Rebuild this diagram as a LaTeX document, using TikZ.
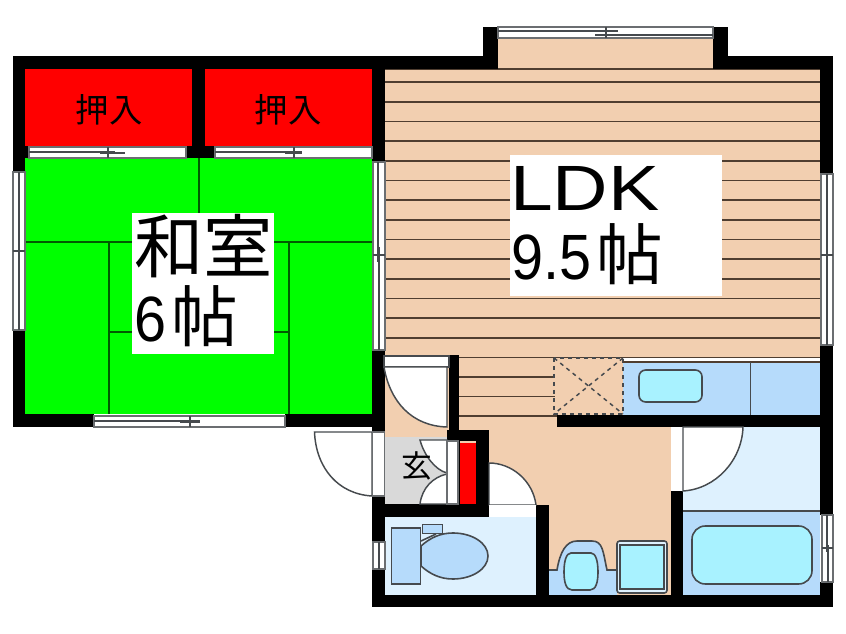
\documentclass[tikz,border=0pt]{standalone}
\usepackage{fontspec}
\setmainfont{Liberation Sans}
\newfontfamily\cjk{Noto Sans CJK JP}
\usepackage{xcolor}
\definecolor{floorc}{RGB}{242,207,176}
\definecolor{floorl}{RGB}{80,62,48}
\definecolor{tatami}{RGB}{0,255,0}
\definecolor{tatamil}{RGB}{0,90,0}
\definecolor{closetc}{RGB}{255,0,0}
\definecolor{wetc}{RGB}{182,219,251}
\definecolor{palec}{RGB}{222,241,254}
\definecolor{bowlc}{RGB}{168,242,255}
\definecolor{entryc}{RGB}{217,217,217}
\definecolor{linec}{RGB}{70,74,78}
\tikzset{
  wall/.style={fill=black,draw=none},
  floorline/.style={draw=floorl,line width=1.2},
  matline/.style={draw=tatamil,line width=0.8},
  fixture/.style={draw=linec,line width=1.2},
  door/.style={draw=linec,fill=white,line width=1.1},
  sash/.style={draw=linec!80,fill=white,line width=1},
  rail/.style={draw=linec,line width=0.9},
  roomlabel/.style={inner sep=0pt,text=black,anchor=base west,font=\fontsize{48}{48}\selectfont},
  closetlabel/.style={inner sep=0pt,font=\cjk\fontsize{25}{25}\selectfont},
}
\begin{document}
\begin{tikzpicture}[x=0.75pt,y=0.75pt,yscale=-1,xscale=1]
\useasboundingbox (0,0) rectangle (846,634);

%Shape: Rectangle [floors]
\fill [floorc] (385,69) rectangle (820,358) ;
\fill [floorc] (498,38) rectangle (713,69) ;
\fill [floorc] (385,358) rectangle (449,437) ;
\fill [floorc] (459,358) rectangle (623,415) ;
\fill [floorc] (459,415) rectangle (671,595) ;
\fill [tatami] (25,158) rectangle (372,414) ;
\fill [closetc] (25,69) rectangle (192,146) ;
\fill [closetc] (205,69) rectangle (372,146) ;
\fill [closetc] (460,443) rectangle (476,504) ;
\fill [entryc] (385,437) rectangle (447,504) ;
\fill [palec] (385,517) rectangle (536,595) ;
\fill [palec] (683,427) rectangle (820,511) ;
\fill [wetc] (683,511) rectangle (820,595) ;
\fill [wetc] (623,362) rectangle (820,415) ;

%Straight Lines [floor boards]
\draw [floorline] (498,38) -- (713,38) ;
\draw [floorline] (385,69) -- (820,69) ;
\draw [floorline] (385,82.3) -- (820,82.3) ;
\draw [floorline] (385,102) -- (820,102) ;
\draw [floorline] (385,121.6) -- (820,121.6) ;
\draw [floorline] (385,141.3) -- (820,141.3) ;
\draw [floorline] (385,160.9) -- (820,160.9) ;
\draw [floorline] (385,180.6) -- (820,180.6) ;
\draw [floorline] (385,200.2) -- (820,200.2) ;
\draw [floorline] (385,219.9) -- (820,219.9) ;
\draw [floorline] (385,239.5) -- (820,239.5) ;
\draw [floorline] (385,259.2) -- (820,259.2) ;
\draw [floorline] (385,278.8) -- (820,278.8) ;
\draw [floorline] (385,298.5) -- (820,298.5) ;
\draw [floorline] (385,318.1) -- (820,318.1) ;
\draw [floorline] (385,337.8) -- (820,337.8) ;
\draw [floorline] (459,357.4) -- (820,357.4) ;
\draw [floorline] (459,377) -- (555,377) ;
\draw [floorline] (459,396.7) -- (555,396.7) ;
\draw [floorline] (459,416.3) -- (557,416.3) ;

%Straight Lines [tatami]
\draw [matline] (199,158) -- (199,242) ;
\draw [matline] (25,242) -- (372,242) ;
\draw [matline] (109,242) -- (109,414) ;
\draw [matline] (289,242) -- (289,414) ;
\draw [matline] (109,332) -- (289,332) ;

%Shape: Rectangle [label backs]
\fill [white] (132,213) rectangle (274,354) ;
\fill [white] (510,155) rectangle (722,296) ;

%Shape: Dashed box
\draw [draw=linec,line width=1.2,dashed] (554,358) rectangle (623,414) ;
\draw [draw=linec,line width=1.1,dashed] (554,358) -- (623,414) ;
\draw [draw=linec,line width=1.1,dashed] (623,358) -- (554,414) ;

%Shape: Kitchen
\draw [draw=floorl,line width=0.9] (623,362) -- (820,362) ;
\draw [fixture] (750.5,362) -- (750.5,415) ;
\draw [fixture,fill=bowlc,rounded corners=5] (639,370) rectangle (702,402) ;

%Shape: Bath
\draw [fixture] (683,511) -- (820,511) ;
\draw [fixture,fill=bowlc,rounded corners=10] (692,526) rectangle (812,584) ;

%Shape: Wash stand
\fill [wetc] (549,570) -- (557,570) .. controls (560,552) and (566,541) .. (577,541) -- (592,541) .. controls (603,541) and (603,552) .. (607,570) -- (617,570) -- (617,595) -- (549,595) -- cycle ;
\draw [fixture] (549,570) -- (557,570) .. controls (560,552) and (566,541) .. (577,541) -- (592,541) .. controls (603,541) and (603,552) .. (607,570) -- (617,570) ;
\draw [fixture,fill=bowlc] (571,553) -- (591,553) .. controls (596,553) and (598,562) .. (598,572) .. controls (598,582) and (596,590) .. (590,590) -- (572,590) .. controls (566,590) and (564,582) .. (564,572) .. controls (564,562) and (566,553) .. (571,553) -- cycle ;
\draw [fixture,fill=palec,rounded corners=2] (617,541) rectangle (667,593) ;
\draw [fixture,fill=bowlc] (620,545) rectangle (664,589) ;

%Shape: Toilet
\draw [fixture] (421,541) -- (436,534) ;
\draw [fixture,fill=wetc] (391.5,528) rectangle (420.5,584) ;
\draw [fixture,fill=wetc,line width=0.7] (422,524) rectangle (442,533) ;
\draw [fixture,fill=wetc] (421,546) .. controls (430,538) and (440,533) .. (453,533) .. controls (472,533) and (488,543) .. (488,556) .. controls (488,569) and (472,579) .. (453,579) .. controls (440,579) and (430,574) .. (421,566) -- cycle ;

%Shape: Walls
\fill [wall] (13,56) rectangle (483,69) ;
\fill [wall] (483,27) rectangle (498,69) ;
\fill [wall] (713,27) rectangle (728,69) ;
\fill [wall] (713,56) rectangle (833,69) ;
\fill [wall] (820,56) rectangle (833,174) ;
\fill [wall] (820,345) rectangle (833,515) ;
\fill [wall] (820,582) rectangle (833,607) ;
\fill [wall] (13,56) rectangle (25,172) ;
\fill [wall] (13,330) rectangle (25,427) ;
\fill [wall] (25,146) rectangle (29,158) ;
\fill [wall] (192,56) rectangle (205,146) ;
\fill [wall] (186,146) rectangle (215,158) ;
\fill [wall] (372,56) rectangle (385,162) ;
\fill [wall] (372,350) rectangle (385,432) ;
\fill [wall] (13,414) rectangle (94,427) ;
\fill [wall] (285,414) rectangle (385,427) ;
\fill [wall] (449,355) rectangle (459,431) ;
\fill [wall] (447,430) rectangle (489,441) ;
\fill [wall] (458,441) rectangle (460,504) ;
\fill [wall] (476,430) rectangle (489,517) ;
\fill [wall] (372,504) rectangle (489,517) ;
\fill [wall] (372,496) rectangle (385,542) ;
\fill [wall] (372,569) rectangle (385,607) ;
\fill [wall] (536,505) rectangle (549,595) ;
\fill [wall] (372,595) rectangle (833,607) ;
\fill [wall] (557,415) rectangle (820,427.5) ;
\fill [wall] (671,491) rectangle (683,595) ;

%Shape: Windows
\draw [sash] (29,147) rectangle (186,158) ;
\draw [rail] (29,152) -- (115,152) ;
\draw [rail] (100,153) -- (125,153) ;
\draw [rail] (108,147) -- (108,158) ;
\draw [sash] (215,147) rectangle (372,158) ;
\draw [rail] (215,152) -- (302,152) ;
\draw [rail] (285,153) -- (302,153) ;
\draw [rail] (294,147) -- (294,158) ;
\draw [sash] (498,27) rectangle (713,38) ;
\draw [rail] (498,31) -- (618,31) ;
\draw [rail] (595,35) -- (713,35) ;
\draw [rail] (606,27) -- (606,38) ;
\draw [sash] (13,172) rectangle (25,330) ;
\draw [rail] (19,172) -- (19,258) ;
\draw [rail] (13,251) -- (25,251) ;
\draw [rail] (19,245) -- (19,330) ;
\draw [sash] (373,162) rectangle (385,350) ;
\draw [rail] (378,162) -- (378,262) ;
\draw [rail] (373,255) -- (385,255) ;
\draw [rail] (379,247) -- (379,350) ;
\draw [sash] (94,416) rectangle (285,427) ;
\draw [rail] (94,421) -- (200,421) ;
\draw [rail] (180,422) -- (200,422) ;
\draw [rail] (190,416) -- (190,427) ;
\draw [sash] (821,174) rectangle (833,345) ;
\draw [rail] (827,174) -- (827,262) ;
\draw [rail] (821,255) -- (833,255) ;
\draw [rail] (827,248) -- (827,345) ;
\draw [sash] (822,515) rectangle (833,582) ;
\draw [rail] (827,515) -- (827,552) ;
\draw [rail] (822,548) -- (833,548) ;
\draw [rail] (828,545) -- (828,582) ;
\draw [sash] (373,542) rectangle (385,569) ;
\draw [rail] (379,542) -- (379,569) ;

%Shape: Doors
\draw [door] (314.5,432) -- (372,432) -- (372,496) .. controls (338,494) and (316,468) .. (314.5,432) -- cycle ;
\draw [sash] (372.5,432) rectangle (384.5,496) ;
\draw [door] (384,356) rectangle (449,367) ;
\draw [door] (384,367) -- (447,367) -- (447,427) .. controls (412,426) and (390,402) .. (384,367) -- cycle ;
\draw [door] (420,440) -- (447,440) -- (447,473) .. controls (435,470) and (424,455) .. (420,440) -- cycle ;
\draw [door] (420,504) .. controls (422,488) and (433,477) .. (447,474) -- (447,504) -- cycle ;
\draw [sash] (447,441) rectangle (458,504) ;
\draw [door] (489,463) .. controls (512,463) and (533,481) .. (536,505) -- (489,505) -- cycle ;
\fill [white] (489,505) rectangle (536,517) ;
\draw [door] (683,427) -- (743,427) .. controls (742,460) and (716,489) .. (683,491) -- cycle ;
\fill [white] (672,427.5) rectangle (682,491) ;

% Text Node
\draw (109,110) node [closetlabel] (closetl) {押入};
% Text Node
\draw (288,110) node [closetlabel] (closetr) {押入};
% Text Node
\draw (203.5,246) node [inner sep=0pt,font=\cjk\fontsize{52}{52}\selectfont] (washitsu) {和室};
% Text Node
\draw (134,342) node [roomlabel] (washitsusize) {\scalebox{.9}[1]{6}\hspace{4pt}{\cjk\fontsize{50}{50}\selectfont 帖}};
% Text Node
\draw (510,211) node [roomlabel] (ldk) {\scalebox{1.2}[1]{LDK}};
% Text Node
\draw (511,280) node [roomlabel] (ldksize) {\scalebox{.9}[1]{9.5}\hspace{4pt}{\cjk\fontsize{50}{50}\selectfont 帖}};
% Text Node
\draw (417,466) node [inner sep=0pt,font=\cjk\fontsize{23}{23}\selectfont] (genkan) {玄};

\end{tikzpicture}
\end{document}
